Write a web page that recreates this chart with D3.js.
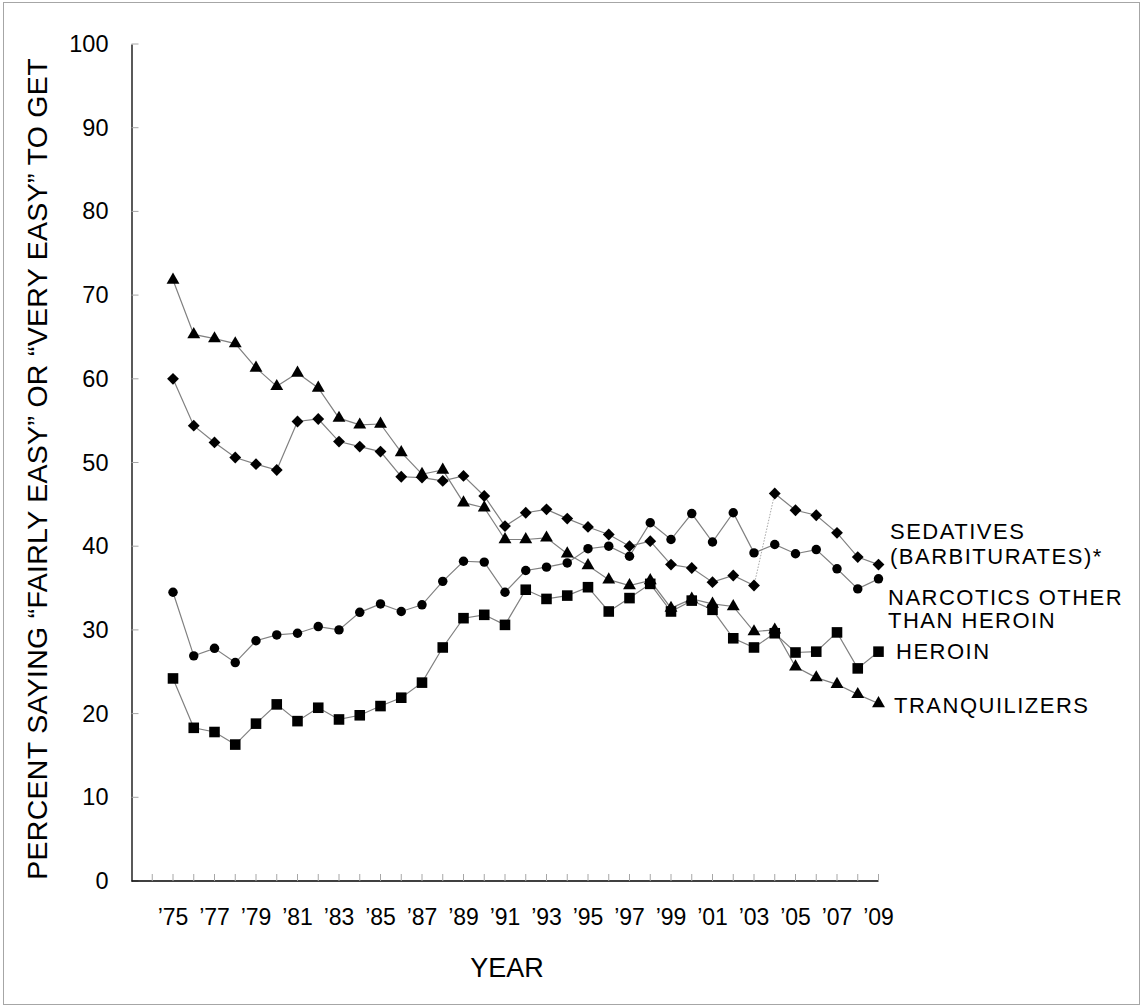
<!DOCTYPE html>
<html>
<head>
<meta charset="utf-8">
<script src="https://cdn.jsdelivr.net/npm/d3@7"></script>
<style>
  body { margin: 0; background: #fff; }
  svg { display: block; font-family: 'Liberation Sans', Arial, sans-serif; }
</style>
</head>
<body>
<svg id="chart" width="1143" height="1008"></svg>
<script>
'use strict';

// data
const years = [1975, 1976, 1977, 1978, 1979, 1980, 1981, 1982, 1983, 1984,
  1985, 1986, 1987, 1988, 1989, 1990, 1991, 1992, 1993, 1994, 1995, 1996,
  1997, 1998, 1999, 2000, 2001, 2002, 2003, 2004, 2005, 2006, 2007, 2008, 2009];

const tranquilizers = [71.8, 65.3, 64.8, 64.2, 61.3, 59.1, 60.7, 58.9, 55.3, 54.5,
  54.6, 51.2, 48.6, 49.1, 45.2, 44.6, 40.8, 40.8, 41.0, 39.1, 37.7, 36.0,
  35.3, 35.9, 32.6, 33.7, 33.1, 32.8, 29.8, 30.0, 25.6, 24.3, 23.5, 22.3, 21.2];

const sedatives = [60.0, 54.4, 52.4, 50.6, 49.8, 49.1, 54.9, 55.2, 52.5, 51.9,
  51.3, 48.3, 48.2, 47.8, 48.4, 46.0, 42.4, 44.0, 44.4, 43.3, 42.3, 41.4,
  40.0, 40.6, 37.8, 37.4, 35.7, 36.5, 35.3, 46.3, 44.3, 43.7, 41.6, 38.7, 37.8];

const narcotics = [34.5, 26.9, 27.8, 26.1, 28.7, 29.4, 29.6, 30.4, 30.0, 32.1,
  33.1, 32.2, 33.0, 35.8, 38.2, 38.1, 34.5, 37.1, 37.5, 38.0, 39.7, 40.0,
  38.8, 42.8, 40.8, 43.9, 40.5, 44.0, 39.2, 40.2, 39.1, 39.6, 37.3, 34.9, 36.1];

const heroin = [24.2, 18.3, 17.8, 16.3, 18.8, 21.1, 19.1, 20.7, 19.3, 19.8,
  20.9, 21.9, 23.7, 27.9, 31.4, 31.8, 30.6, 34.8, 33.7, 34.1, 35.1, 32.2,
  33.8, 35.5, 32.2, 33.5, 32.4, 29.0, 27.9, 29.6, 27.3, 27.4, 29.7, 25.4, 27.4];

// sedatives question changed between these two years (dotted link)
const sedativesBreak = [2003, 2004];

const yTicks = [0, 10, 20, 30, 40, 50, 60, 70, 80, 90, 100];
const xLabelYears = [1975, 1977, 1979, 1981, 1983, 1985, 1987, 1989, 1991, 1993,
  1995, 1997, 1999, 2001, 2003, 2005, 2007, 2009];
const xTickYears = [1974, 1975, 1976, 1977, 1978, 1979, 1980, 1981, 1982, 1983,
  1984, 1985, 1986, 1987, 1988, 1989, 1990, 1991, 1992, 1993, 1994, 1995,
  1996, 1997, 1998, 1999, 2000, 2001, 2002, 2003, 2004, 2005, 2006, 2007,
  2008, 2009];

const seriesList = [
  { key: 'sedatives', values: sedatives, symbol: 'diamond',
    label: ['SEDATIVES', '(BARBITURATES)*'] },
  { key: 'narcotics', values: narcotics, symbol: 'circle',
    label: ['NARCOTICS OTHER', 'THAN HEROIN'] },
  { key: 'heroin', values: heroin, symbol: 'square', label: ['HEROIN'] },
  { key: 'tranquilizers', values: tranquilizers, symbol: 'triangle',
    label: ['TRANQUILIZERS'] },
];

// label placement next to the line ends
const labelPos = {
  sedatives: { x: 890, y: 539, dy: 25 },
  narcotics: { x: 888, y: 605, dy: 23 },
  heroin: { x: 896, y: 659, dy: 0 },
  tranquilizers: { x: 894, y: 713, dy: 0 },
};

const svg = d3.select('#chart');

// outer frame
svg.append('rect')
  .attr('x', 3.5).attr('y', 2.5)
  .attr('width', 1136).attr('height', 1002)
  .attr('fill', 'none')
  .attr('stroke', '#a6a6a6')
  .attr('stroke-width', 1);

const xScale = d3.scaleLinear().domain([1973, 2009]).range([131.5, 878.5]);
const yScale = d3.scaleLinear().domain([0, 100]).range([881, 44]);

// y axis
const yAxis = d3.axisLeft(yScale)
  .tickValues(yTicks)
  .tickSize(0)
  .tickPadding(23)
  .tickFormat(d3.format('d'));

svg.append('g')
  .attr('class', 'y axis')
  .attr('transform', 'translate(131.5,0)')
  .call(yAxis)
  .call((g) => {
    g.select('.domain').attr('stroke', '#000').attr('stroke-width', 1.3);
    g.selectAll('text')
      .attr('fill', '#000')
      .style('font-size', '23.5px')
      .style('font-family', "'Liberation Sans', Arial, sans-serif");
  });

svg.append('g')
  .selectAll('line')
  .data(yTicks)
  .enter()
  .append('line')
  .attr('x1', 131.5).attr('x2', 138.5)
  .attr('y1', (d) => yScale(d)).attr('y2', (d) => yScale(d))
  .attr('stroke', '#a6a6a6');

// x axis
svg.append('line')
  .attr('x1', 131.5).attr('x2', 878.5)
  .attr('y1', 881).attr('y2', 881)
  .attr('stroke', '#000')
  .attr('stroke-width', 1.3);

svg.append('g')
  .selectAll('line')
  .data(xTickYears)
  .enter()
  .append('line')
  .attr('x1', (d) => xScale(d)).attr('x2', (d) => xScale(d))
  .attr('y1', 881).attr('y2', 874)
  .attr('stroke', '#a6a6a6');

svg.append('g')
  .selectAll('text')
  .data(xLabelYears)
  .enter()
  .append('text')
  .attr('x', (d) => xScale(d))
  .attr('y', 925)
  .attr('text-anchor', 'middle')
  .style('font-size', '23px')
  .text((d) => '\u2019' + String(d).slice(2));

// axis titles
svg.append('text')
  .attr('x', 507)
  .attr('y', 977)
  .attr('text-anchor', 'middle')
  .style('font-size', '27px')
  .text('YEAR');

svg.append('text')
  .attr('transform', 'translate(47,469) rotate(-90)')
  .attr('text-anchor', 'middle')
  .style('font-size', '28.5px')
  .style('letter-spacing', '0.3px')
  .text('PERCENT SAYING \u201CFAIRLY EASY\u201D OR \u201CVERY EASY\u201D TO GET');

// line generator
const line = d3.line()
  .x((d) => xScale(d.year))
  .y((d) => yScale(d.value));

const symbols = {
  diamond: d3.symbol().type(d3.symbolSquare).size(70),
  circle: d3.symbol().type(d3.symbolCircle).size(70),
  square: d3.symbol().type(d3.symbolSquare).size(112),
  triangle: d3.symbol().type(d3.symbolTriangle).size(72),
};

const plot = svg.append('g').attr('class', 'plot');

seriesList.forEach(function(s) {
  const pts = years.map((y, i) => ({ year: y, value: s.values[i] }));

  if (s.key === 'sedatives') {
    const before = pts.filter((d) => d.year <= sedativesBreak[0]);
    const after = pts.filter((d) => d.year >= sedativesBreak[1]);
    const link = pts.filter((d) => d.year >= sedativesBreak[0] &&
      d.year <= sedativesBreak[1]);
    [before, after].forEach(function(part) {
      plot.append('path')
        .attr('d', line(part))
        .attr('fill', 'none')
        .attr('stroke', '#808080')
        .attr('stroke-width', 1.2);
    });
    plot.append('path')
      .attr('d', line(link))
      .attr('fill', 'none')
      .attr('stroke', '#a6a6a6')
      .attr('stroke-width', 1)
      .attr('stroke-dasharray', '1.5,1.5');
  } else {
    plot.append('path')
      .attr('d', line(pts))
      .attr('fill', 'none')
      .attr('stroke', '#808080')
      .attr('stroke-width', 1.2);
  }
  s.pts = pts;
});

seriesList.forEach(function(s) {
  plot.append('g')
    .selectAll('path')
    .data(s.pts)
    .enter()
    .append('path')
    .attr('d', symbols[s.symbol])
    .attr('transform', function(d) {
      const t = 'translate(' + xScale(d.year) + ',' + yScale(d.value) + ')';
      return s.symbol === 'diamond' ? t + ' rotate(45)' : t;
    })
    .attr('fill', '#000');

  // series label
  const p = labelPos[s.key];
  const txt = svg.append('text')
    .attr('x', p.x)
    .attr('y', p.y)
    .style('font-size', '22px')
    .style('letter-spacing', '1.5px');
  s.label.forEach(function(l, i) {
    txt.append('tspan')
      .attr('x', p.x)
      .attr('dy', i === 0 ? 0 : p.dy)
      .text(l);
  });
});
</script>
</body>
</html>
